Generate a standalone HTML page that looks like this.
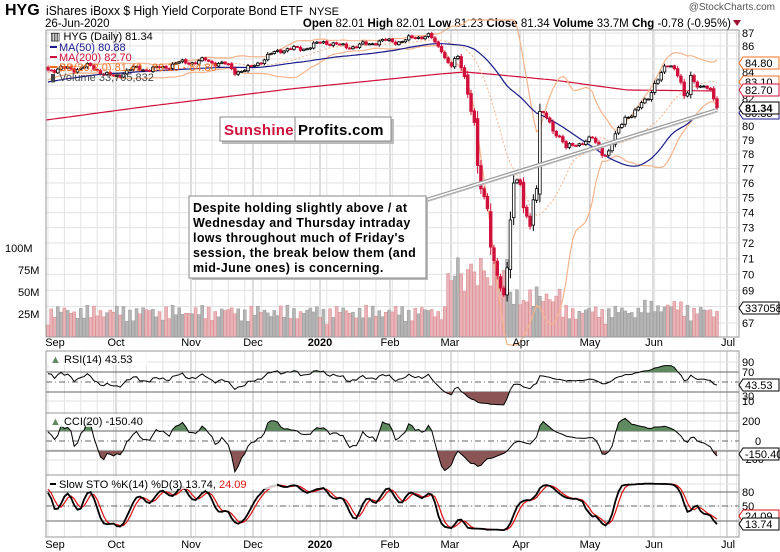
<!DOCTYPE html>
<html><head><meta charset="utf-8"><style>
body{margin:0;background:#fff;width:780px;height:552px;overflow:hidden;font-family:"Liberation Sans",sans-serif}
svg{position:absolute;left:0;top:0}
</style></head><body>
<svg id="s" width="780" height="552" xmlns="http://www.w3.org/2000/svg" font-family="Liberation Sans, sans-serif">
<text x="5" y="15" font-size="16" font-weight="bold">HYG</text>
<text x="46" y="15" font-size="12.5" textLength="257" lengthAdjust="spacingAndGlyphs">iShares iBoxx $ High Yield Corporate Bond ETF</text>
<text x="309" y="15" font-size="11">NYSE</text>
<text x="45" y="27" font-size="11.5">26-Jun-2020</text>
<text x="775" y="10" font-size="10" text-anchor="end" fill="#555">@StockCharts.com</text>
<text x="731" y="27" font-size="11.5" text-anchor="end"><tspan font-weight="bold">Open</tspan> 82.01 <tspan font-weight="bold">High</tspan> 82.01 <tspan font-weight="bold">Low</tspan> 81.23 <tspan font-weight="bold">Close</tspan> 81.34 <tspan font-weight="bold">Volume</tspan> 33.7M <tspan font-weight="bold">Chg</tspan> -0.78 (-0.95%)</text>
<path d="M733 20 L741 20 L737 26Z" fill="#a01030"/>
<g id="g"></g>
</svg>
<script>
(function(){
var G=document.getElementById("g"),out="";
function add(s){out+=s;}
var X0=46,X1=739;
function py(p){return 33+1110*(Math.log(87)-Math.log(p));}
function yp(y){return Math.exp(Math.log(87)-(y-33)/1110);}
var PT=[[48,70],[60,66],[75,70],[90,68],[105,72],[116,76],[125,72],[140,70],[160,66],[180,65],[195,62],[205,58],[215,62],[225,66],[235,73],[245,70],[255,62],[265,58],[280,52],[295,48],[310,45],[325,44],[340,46],[355,44],[370,45],[385,42],[395,40],[410,38],[430,38],[437,46],[442,48],[447,60],[452,65],[457,55],[460,62],[465,78],[470,107],[475,130],[478,175],[482,196],[487,200],[490,240],[495,265],[500,285],[503,300],[506,285],[508,250],[511,210],[514,180],[517,180],[520,186],[523,212],[526,215],[530,228],[533,200],[536,190],[538,175],[540,108],[545,115],[548,118],[552,128],[556,132],[562,140],[566,150],[572,148],[578,145],[582,142],[587,140],[592,136],[598,145],[603,152],[607,155],[612,146],[618,132],[625,118],[632,115],[637,110],[642,100],[648,95],[654,85],[659,80],[663,72],[667,66],[672,66],[676,72],[680,80],[684,98],[688,90],[691,72],[695,80],[700,86],[705,88],[710,92],[714,100],[717,108]];
function interp(P,x){if(x<=P[0][0])return P[0][1];for(var i=1;i<P.length;i++){if(x<=P[i][0]){var a=P[i-1],b=P[i];return a[1]+(b[1]-a[1])*(x-a[0])/(b[0]-a[0]);}}return P[P.length-1][1];}
var N=205,PAD=60,dx=(717-48)/(N-1);
var C=[],H=[],L=[],O=[];
function nz(i){return Math.sin(i*12.9898)*0.6+Math.sin(i*4.1)*0.4;}
for(var k=-PAD;k<N;k++){
  var c;
  if(k<0){c=81.6+(84.4-81.6)*(k+PAD)/PAD+nz(k)*0.15;}
  else{var x=48+k*dx;c=yp(interp(PT,x)+(k>0&&k<N-1?nz(k)*3.2+Math.sin(k*0.9)*2:0));}
  C.push(c);
}
C[C.length-1]=81.34;
for(var i=0;i<C.length;i++){
  var prev=i?C[i-1]:C[i];
  var r=Math.abs(C[i]-prev);
  var o=prev+nz(i+7)*0.1*(r+0.1);
  var w=Math.min(r*0.18,0.5);
  var h=Math.max(o,C[i])+0.04+w+Math.abs(nz(i+3))*0.06;
  var l=Math.min(o,C[i])-0.04-w-Math.abs(nz(i+5))*0.06;
  O.push(o);H.push(h);L.push(l);
}
var NN=C.length;
function sma(a,n,i){var s=0;for(var j=i-n+1;j<=i;j++)s+=a[Math.max(j,0)];return s/n;}
function xi(i){return 48+(i-PAD)*dx;}
var months=[[46,"Sep",55],[116,"Oct",116],[191,"Nov",191],[253,"Dec",253],[320,"2020",320],[390,"Feb",390],[451,"Mar",450],[520,"Apr",521],[590,"May",590],[653,"Jun",654],[727,"Jul",728]];
var panels=[[30,337],[351,413],[413,475],[475,537]];
panels.forEach(function(p){
  for(var k=0;k<N+8;k+=5){var x=48+k*dx;if(x<X1)add('<line x1="'+x+'" y1="'+p[0]+'" x2="'+x+'" y2="'+p[1]+'" stroke="#e4e4e4" stroke-width="1"/>');}
  months.forEach(function(m){add('<line x1="'+m[0]+'" y1="'+p[0]+'" x2="'+m[0]+'" y2="'+p[1]+'" stroke="#bbb" stroke-width="1"/>');});
});
for(var v=67;v<=87;v++){var y=py(v);add('<line x1="'+X0+'" y1="'+y+'" x2="'+X1+'" y2="'+y+'" stroke="#e2e2e2"/>');
  if([85,83,81].indexOf(v)<0)add('<text x="742" y="'+(y+4)+'" font-size="11">'+v+'</text>');}
[362,372,392,401,421,431,450,460,484,492,506,521].forEach(function(y){add('<line x1="'+X0+'" y1="'+y+'" x2="'+X1+'" y2="'+y+'" stroke="#e2e2e2"/>');});
for(var i=PAD;i<NN;i++){
  var k=i-PAD,x=xi(i);
  var base=12+Math.abs(Math.sin(k*1.7))*14+Math.abs(Math.sin(k*0.37))*6;
  var xx=48+k*dx; if(xx>445&&xx<510)base+=20+Math.abs(Math.sin(k*2.3))*30; else if(xx>=510&&xx<560)base+=6+Math.abs(Math.sin(k*2.1))*14;
  if(xx>640&&xx<690)base+=5;
  var dn=C[i]<C[i-1];
  add('<rect x="'+(x-1.5)+'" y="'+(337-base)+'" width="3" height="'+base+'" fill="'+(dn?'#e8b4ba':'#b5b5b5')+'" stroke="'+(dn?'#d88':'#999')+'" stroke-width="0.5"/>');
}
add('<text x="5" y="252" font-size="11">100M</text><text x="18" y="274" font-size="11">75M</text><text x="18" y="296" font-size="11">50M</text><text x="18" y="318" font-size="11">25M</text>');
var M2=[[46,120],[150,106],[290,89],[400,78],[440,74],[465,72],[500,75],[553,80],[627,90],[717,91]];
var d="";for(var x=46;x<=717;x+=3)d+=(d?"L":"M")+x+" "+interp(M2,x).toFixed(1);
add('<path d="'+d+'" fill="none" stroke="#d0103a" stroke-width="1.2"/>');
var up="",lo="",mid="",m50="";
for(var i=PAD;i<NN;i++){var m=sma(C,20,i),s=0;for(var j=i-19;j<=i;j++)s+=(C[j]-m)*(C[j]-m);s=Math.sqrt(s/20);
  var x=xi(i).toFixed(1),c=(i==PAD?"M":"L");
  up+=c+x+" "+Math.max(py(m+2*s),20).toFixed(1);lo+=c+x+" "+Math.min(py(m-2*s),345).toFixed(1);mid+=c+x+" "+py(m).toFixed(1);m50+=c+x+" "+py(sma(C,50,i)).toFixed(1);}
add('<path d="'+up+'" fill="none" stroke="#f5b48a" stroke-width="1.2"/><path d="'+lo+'" fill="none" stroke="#f5b48a" stroke-width="1.2"/><path d="'+mid+'" fill="none" stroke="#f5b48a" stroke-width="1" stroke-dasharray="2,2"/>');
add('<path d="'+m50+'" fill="none" stroke="#1a1a8c" stroke-width="1.2"/>');
for(var i=PAD;i<NN;i++){var x=xi(i),dn=C[i]<C[i-1],col=dn?"#d0103a":"#000";
  add('<line x1="'+x+'" y1="'+py(H[i])+'" x2="'+x+'" y2="'+py(L[i])+'" stroke="'+col+'" stroke-width="1"/>');
  var t=py(Math.max(O[i],C[i])),b=py(Math.min(O[i],C[i]));if(b-t<1)b=t+1;
  var fill=C[i]<O[i]?col:"#fff";
  add('<rect x="'+(x-1.3)+'" y="'+t+'" width="2.6" height="'+(b-t)+'" fill="'+fill+'" stroke="'+col+'" stroke-width="0.8"/>');}
add('<path d="M426 200 L717 110" stroke="#999" stroke-width="4" fill="none"/><path d="M426 200 L717 110" stroke="#fff" stroke-width="1.5" fill="none"/><path d="M426 202 L717 112" stroke="#bbb" stroke-width="1" fill="none"/>');
add('<rect x="192" y="199" width="236" height="81" fill="#bbb"/><rect x="189" y="196" width="237" height="82" fill="#fff" stroke="#888"/>');
var tl=["Despite holding slightly above / at","Wednesday and Thursday intraday","lows throughout much of Friday's","session, the break below them (and","mid-June ones) is concerning."];
tl.forEach(function(t,k){add('<text x="193" y="'+(212+k*15)+'" font-size="12.5" font-weight="bold" letter-spacing="0.35">'+t+'</text>');});
add('<rect x="222" y="119" width="172" height="25" fill="#bbb"/><rect x="220" y="117" width="171" height="24" fill="#fff" stroke="#888"/><line x1="295" y1="117" x2="295" y2="141" stroke="#888"/>');
add('<text x="224" y="135" font-size="15" font-weight="bold" fill="#d0103a" letter-spacing="0.3">Sunshine</text><text x="298" y="135" font-size="15" font-weight="bold" letter-spacing="0.3">Profits.com</text>');
add('<text x="50" y="40" font-size="11">▥ HYG (Daily) 81.34</text>');
add('<line x1="50" y1="47" x2="57" y2="47" stroke="#1a1a8c" stroke-width="2"/><text x="59" y="51" font-size="11" fill="#1a1a8c">MA(50) 80.88</text>');
add('<line x1="50" y1="57" x2="57" y2="57" stroke="#d0103a" stroke-width="2"/><text x="59" y="61" font-size="11" fill="#d0103a">MA(200) 82.70</text>');
add('<line x1="50" y1="67" x2="57" y2="67" stroke="#f07020" stroke-width="2"/><text x="59" y="71" font-size="11" fill="#f07020">BB(20,2.0) 81.40 - 83.10 - 84.80</text>');
add('<text x="50" y="81" font-size="11" fill="#444">▮ Volume 33,705,832</text>');
var g=0,l2=0,rsi=[];
for(var i=1;i<NN;i++){var ch=C[i]-C[i-1];var gg=Math.max(ch,0),ll=Math.max(-ch,0);if(i<=14){g+=gg/14;l2+=ll/14;}else{g=(g*13+gg)/14;l2=(l2*13+ll)/14;}rsi[i]=100-100/(1+g/(l2||1e-9));}
rsi[NN-1]=43.53;
function ry(v){return 407-0.5*v;}
function cy(v){return Math.max(416,Math.min(472,441-0.1*v));}
function sy(v){return 530.7-0.483*v;}
function series(arr,f){var d="";for(var i=PAD;i<NN;i++)d+=(i==PAD?"M":"L")+xi(i).toFixed(1)+" "+f(arr[i]).toFixed(1);return d;}
function fills(arr,f,th,above,col,id){var d=series(arr,f);var xa=xi(PAD),xb=xi(NN-1),yt=f(th);
  var clip=above?'<rect x="'+X0+'" y="300" width="700" height="'+(yt-300)+'"/>':'<rect x="'+X0+'" y="'+yt+'" width="700" height="200"/>';
  add('<clipPath id="'+id+'">'+clip+'</clipPath><path clip-path="url(#'+id+')" d="'+d+'L'+xb+' '+yt+'L'+xa+' '+yt+'Z" fill="'+col+'"/>');}
add('<line x1="'+X0+'" y1="372" x2="'+X1+'" y2="372" stroke="#666"/><line x1="'+X0+'" y1="392" x2="'+X1+'" y2="392" stroke="#666"/><line x1="'+X0+'" y1="382" x2="'+X1+'" y2="382" stroke="#666" stroke-dasharray="6,3,1,3"/>');
fills(rsi,ry,70,true,"#5f8a5f","r1");fills(rsi,ry,30,false,"#8b5555","r2");
add('<path d="'+series(rsi,ry)+'" fill="none" stroke="#000" stroke-width="1"/>');
var tp=[],cci=[];for(var i=0;i<NN;i++)tp[i]=(H[i]+L[i]+C[i])/3;
for(var i=0;i<NN;i++){var m=sma(tp,20,i),md=0;for(var j=i-19;j<=i;j++)md+=Math.abs(tp[Math.max(j,0)]-m);md/=20;cci[i]=(tp[i]-m)/(0.015*(md||1e-9));}
cci[NN-1]=-150.4;
add('<line x1="'+X0+'" y1="431" x2="'+X1+'" y2="431" stroke="#666"/><line x1="'+X0+'" y1="451" x2="'+X1+'" y2="451" stroke="#666"/><line x1="'+X0+'" y1="441" x2="'+X1+'" y2="441" stroke="#666" stroke-dasharray="6,3,1,3"/>');
fills(cci,cy,100,true,"#5f8a5f","c1");fills(cci,cy,-100,false,"#8b5555","c2");
add('<path d="'+series(cci,cy)+'" fill="none" stroke="#000" stroke-width="1"/>');
var fk=[],sk=[],sd=[];for(var i=0;i<NN;i++){var hh=-1e9,ll=1e9;for(var j=Math.max(0,i-13);j<=i;j++){hh=Math.max(hh,H[j]);ll=Math.min(ll,L[j]);}fk[i]=100*(C[i]-ll)/((hh-ll)||1);}
for(var i=0;i<NN;i++)sk[i]=sma(fk,3,i);for(var i=0;i<NN;i++)sd[i]=sma(sk,3,i);
sk[NN-1]=13.74;sd[NN-1]=24.09;
add('<line x1="'+X0+'" y1="492" x2="'+X1+'" y2="492" stroke="#666"/><line x1="'+X0+'" y1="521" x2="'+X1+'" y2="521" stroke="#666"/><line x1="'+X0+'" y1="506" x2="'+X1+'" y2="506" stroke="#666" stroke-dasharray="6,3,1,3"/>');
add('<clipPath id="st"><rect x="'+X0+'" y="476" width="700" height="60"/></clipPath>');
add('<g clip-path="url(#st)"><path d="'+series(sd,sy)+'" fill="none" stroke="#e01010" stroke-width="1.2"/><path d="'+series(sk,sy)+'" fill="none" stroke="#000" stroke-width="1.8"/></g>');
add('<rect x="47" y="352" width="100" height="13" fill="#fff" fill-opacity="0.8"/><text x="50" y="363" font-size="11"><tspan fill="#5f8a5f">▲</tspan> RSI(14) 43.53</text>');
add('<rect x="47" y="414" width="110" height="13" fill="#fff" fill-opacity="0.8"/><text x="50" y="425" font-size="11"><tspan fill="#5f8a5f">▲</tspan> CCI(20) -150.40</text>');
add('<rect x="47" y="476" width="230" height="13" fill="#fff" fill-opacity="0.8"/><line x1="50" y1="484" x2="56" y2="484" stroke="#000" stroke-width="2"/><text x="59" y="488" font-size="11">Slow STO %K(14) %D(3) 13.74, <tspan fill="#e01010">24.09</tspan></text>');
panels.forEach(function(p){add('<rect x="'+X0+'" y="'+p[0]+'" width="'+(X1-X0)+'" height="'+(p[1]-p[0])+'" fill="none" stroke="#999"/>');});
months.forEach(function(m){var b=m[1]=="2020";add('<text x="'+m[2]+'" y="346" font-size="11" text-anchor="middle"'+(b?' font-weight="bold"':'')+'>'+m[1]+'</text><text x="'+m[2]+'" y="548" font-size="11" text-anchor="middle"'+(b?' font-weight="bold"':'')+'>'+m[1]+'</text>');});
[[90,362],[70,372],[10,401]].forEach(function(a){add('<text x="742" y="'+(a[1]+4)+'" font-size="11">'+a[0]+'</text>');});
add('<text x="742" y="400" font-size="11">30</text>');
add('<text x="742" y="425" font-size="11">200</text><text x="755" y="445" font-size="11">0</text><text x="742" y="463" font-size="11">-200</text>');
add('<text x="742" y="496" font-size="11">80</text><text x="742" y="510" font-size="11">50</text>');
function box(y,t,col,bold){add('<path d="M739 '+y+' L743 '+(y-6)+' L779 '+(y-6)+' L779 '+(y+6)+' L743 '+(y+6)+'Z" fill="#fff" stroke="'+col+'" stroke-width="1"/><text x="745" y="'+(y+4)+'" font-size="11"'+(bold?' font-weight="bold"':'')+'>'+t+'</text>');}
box(113,"80.88","#1a1a8c");box(82,"83.10","#f07020");box(90,"82.70","#d0103a");box(63,"84.80","#f07020");box(108,"81.34","#000",true);
box(308,"33705832","#000");box(385,"43.53","#000");box(454,"-150.40","#000");box(516,"24.09","#e01010");box(524,"13.74","#000");
G.innerHTML=out;
})();
</script>
</body></html>
